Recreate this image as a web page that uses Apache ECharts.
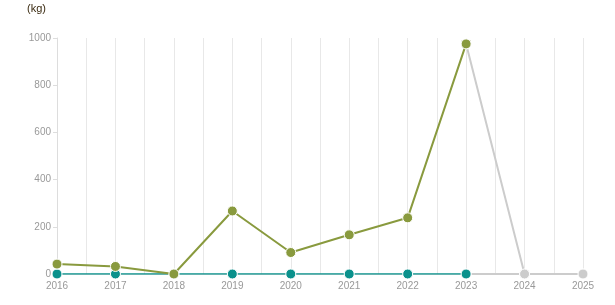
<!DOCTYPE html>
<html><head><meta charset="utf-8">
<script src="https://cdn.jsdelivr.net/npm/echarts@6/dist/echarts.min.js"></script>
<style>html,body{margin:0;padding:0;background:#fff}#c{width:615px;height:305px}</style>
</head><body><div id="c"></div>
<script>
const years = [2016, 2017, 2018, 2019, 2020, 2021, 2022, 2023, 2024, 2025];
const actualValues = [42, 32, 0, 267, 91, 166, 238, 975];
const forecastYears = [2023, 2024, 2025];
const forecastValues = [975, 0, 0];
const baselineValues = [0, 0, 0, 0, 0, 0, 0, 0];
const baselineForecast = [0, 0, 0];
const yTicks = [0, 200, 400, 600, 800, 1000];
const unitLabel = '(kg)';

const pairs = (xs, ys) => xs.map((x, i) => [x, ys[i]]);
const chart = echarts.init(document.getElementById('c'));
chart.setOption({
  animation: false,
  grid: { left: 57, right: 32, top: 38, bottom: 31 },
  graphic: [{ type: 'text', left: 27, top: 3, style: { text: unitLabel, fill: '#3a2a10', font: '11px "Liberation Sans", Arial' } }],
  xAxis: {
    type: 'value', min: years[0], max: years[years.length - 1], interval: 0.5,
    axisLine: { show: true, lineStyle: { color: '#ddd' } },
    axisTick: { show: false },
    axisLabel: { color: '#999', fontSize: 10, fontFamily: 'Liberation Sans', margin: 7,
      formatter: v => (Number.isInteger(v) && years.includes(v)) ? String(v) : '' },
    splitLine: { show: true, lineStyle: { color: '#e8e8e8' } }
  },
  yAxis: {
    type: 'value', min: yTicks[0], max: yTicks[yTicks.length - 1], interval: 200,
    axisLine: { show: true, lineStyle: { color: '#ddd' } },
    axisTick: { show: true, length: 4, lineStyle: { color: '#ddd' } },
    axisLabel: { color: '#999', fontSize: 10, fontFamily: 'Liberation Sans', margin: 6, formatter: v => String(v) },
    splitLine: { show: false }
  },
  series: [
    { type: 'line', data: pairs(forecastYears, baselineForecast), symbol: 'circle', symbolSize: 10,
      itemStyle: { color: '#cccccc', borderColor: '#fff', borderWidth: 1 }, lineStyle: { color: '#cccccc', width: 2 }, z: 1 },
    { type: 'line', data: pairs(forecastYears, forecastValues), symbol: 'circle', symbolSize: 10,
      itemStyle: { color: '#cccccc', borderColor: '#fff', borderWidth: 1 }, lineStyle: { color: '#cccccc', width: 2 }, z: 2 },
    { type: 'line', data: pairs(years.slice(0, 8), baselineValues), symbol: 'circle', symbolSize: 10,
      itemStyle: { color: '#0a918c', borderColor: '#fff', borderWidth: 1 }, lineStyle: { color: '#0a918c', width: 1.5 }, z: 3 },
    { type: 'line', data: pairs(years.slice(0, 8), actualValues), symbol: 'circle', symbolSize: 10,
      itemStyle: { color: '#899a3e', borderColor: '#fff', borderWidth: 1 }, lineStyle: { color: '#899a3e', width: 2 }, z: 4 }
  ]
});
</script></body></html>
